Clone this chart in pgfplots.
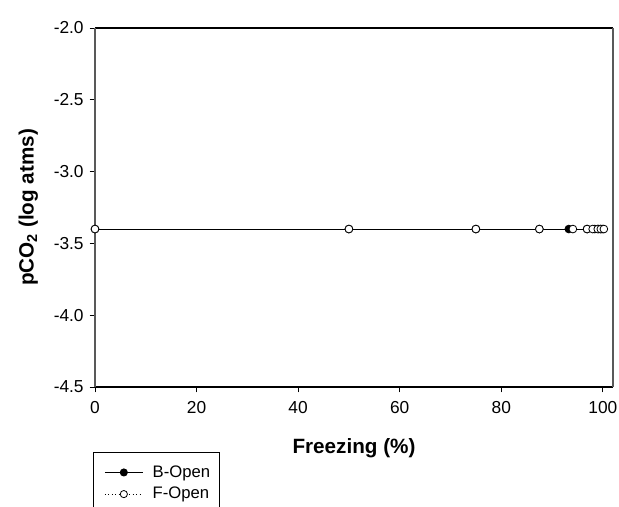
\documentclass[border=0pt]{standalone}
\usepackage{pgfplots}
\pgfplotsset{compat=1.18}
\usepackage{fontspec}
\setmainfont{Liberation Sans}
\pgfplotstableread{
x y
0 -3.4
50 -3.4
75 -3.4
87.5 -3.4
93.3 -3.4
96.9 -3.4
98.4 -3.4
99.2 -3.4
99.6 -3.4
100 -3.4
}\bopen
\pgfplotstableread{
x y
0 -3.4
50 -3.4
75 -3.4
87.5 -3.4
94.1 -3.4
96.9 -3.4
98.0 -3.4
99.0 -3.4
99.6 -3.4
100.2 -3.4
}\fopen
\begin{document}
\begin{tikzpicture}[x=0.75pt,y=0.75pt]
\begin{axis}[
  at={(0,0)}, anchor=south west,
  scale only axis,
  width=388.5pt, height=269.25pt,
  xmin=0, xmax=102, ymin=-4.5, ymax=-2.0,
  xtick={0,20,40,60,80,100},
  ytick={-4.5,-4.0,-3.5,-3.0,-2.5,-2.0},
  yticklabel style={xshift=-1pt, /pgf/number format/.cd, fixed, fixed zerofill, precision=1},
  /pgf/number format/assume math mode=true,
  tick align=outside, xtick pos=bottom, ytick pos=left,
  major tick length=4pt,
  tick style={black, line width=0.6pt},
  separate axis lines,
  x axis line style={black, line width=0.8pt},
  y axis line style={gray!70!black, line width=0.8pt},
  ticklabel style={font=\fontsize{13}{15}\selectfont},
  xticklabel style={yshift=-3pt},
  xlabel={\textbf{Freezing (\%)}},
  ylabel={\textbf{pCO\textsubscript{2} (log atms)}},
  label style={font=\fontsize{15.5}{18}\selectfont},
  xlabel style={yshift=-12pt},
  ylabel style={yshift=5pt},
  legend style={at={(-0.004,-0.181)}, anchor=north west, draw=black, line width=0.5pt,
    font=\fontsize{12.5}{15}\selectfont, row sep=2pt, inner xsep=5pt, inner ysep=8pt},
  legend cell align=left,
  legend image code/.code={\path (0cm,0cm) (1.3cm,0cm); \draw[#1, mark size=2.7pt] (0.12cm,0cm) -- (1.12cm,0cm); \draw[#1, solid, mark size=2.7pt] plot coordinates {(0.62cm,0cm)};},
]
\addplot[black, line width=0.6pt, mark=*, mark size=2.9pt, mark options={solid, fill=black}] table[x=x,y=y] {\bopen};
\addlegendentry{B-Open}
\addplot[black, dotted, line width=0.6pt, mark=*, mark size=2.9pt, mark options={solid, fill=white, line width=0.6pt}] table[x=x,y=y] {\fopen};
\addlegendentry{F-Open}
\end{axis}
\pgfresetboundingbox
\useasboundingbox (-95,-120) rectangle (524,387);
\end{tikzpicture}
\end{document}
